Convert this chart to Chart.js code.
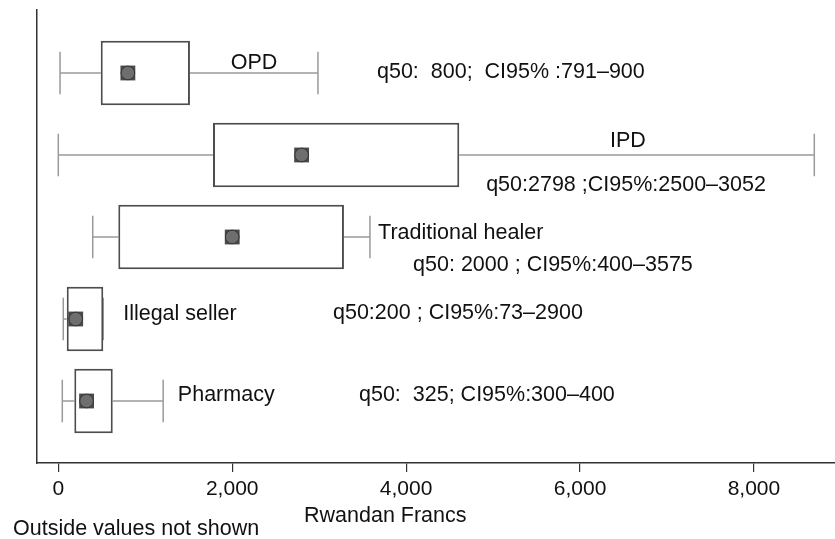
<!DOCTYPE html>
<html>
<head>
<meta charset="utf-8">
<script src="https://cdn.jsdelivr.net/npm/chart.js@4"></script>
<style>
  body { margin: 0; background: #fff; }
  #wrap { width: 835px; height: 539px; }
</style>
</head>
<body>
<div id="wrap"><canvas id="chart"></canvas></div>
<script>
// box plot values (Rwandan Francs)
const categories = ['OPD', 'IPD', 'Traditional healer', 'Illegal seller', 'Pharmacy'];
const whiskerLow = [20, 0, 396, 57, 46];
const q1 = [488, 1779, 690, 97, 184];
const median = [800, 2798, 2000, 200, 325];
const q3 = [1514, 4611, 3285, 517, 626];
const whiskerHigh = [2986, 8694, 3584, 517, 1206];
const xTicks = [0, 2000, 4000, 6000, 8000];

// text notes: [text, x value, row offset, align]
const notes = [
  ['OPD', 2250, 0.88, 'center'],
  ['q50:  800;  CI95% :791–900', 3665, 0.99, 'left'],
  ['IPD', 6550, 1.83, 'center'],
  ['q50:2798 ;CI95%:2500–3052', 4920, 2.37, 'left'],
  ['Traditional healer', 3677, 2.95, 'left'],
  ['q50: 2000 ; CI95%:400–3575', 4080, 3.34, 'left'],
  ['Illegal seller', 746, 3.94, 'left'],
  ['q50:200 ; CI95%:73–2900', 3159, 3.93, 'left'],
  ['Pharmacy', 1375, 4.93, 'left'],
  ['q50:  325; CI95%:300–400', 3458, 4.93, 'left'],
];

const FONT = '21.5px "Liberation Sans", Arial, sans-serif';
const capHalf = 0.26;

// whiskers: one broken line per category
const whiskerSets = categories.map((c, i) => {
  const y = i + 1;
  const gap = { x: null, y: null };
  return {
    type: 'scatter',
    showLine: true,
    spanGaps: false,
    borderColor: '#9a9a9a',
    borderWidth: 1.5,
    pointRadius: 0,
    order: 3,
    data: [
      { x: whiskerLow[i], y: y - capHalf }, { x: whiskerLow[i], y: y + capHalf }, gap,
      { x: whiskerLow[i], y: y }, { x: q1[i], y: y }, gap,
      { x: q3[i], y: y }, { x: whiskerHigh[i], y: y }, gap,
      { x: whiskerHigh[i], y: y - capHalf }, { x: whiskerHigh[i], y: y + capHalf },
    ],
  };
});

const notesPlugin = {
  id: 'notes',
  afterDraw(chart) {
    const { ctx, scales: { x, y }, chartArea } = chart;
    ctx.save();
    ctx.font = FONT;
    ctx.fillStyle = '#111';
    ctx.textBaseline = 'middle';
    notes.forEach(([t, xv, yv, align]) => {
      ctx.textAlign = align;
      ctx.fillText(t, x.getPixelForValue(xv), y.getPixelForValue(yv));
    });
    ctx.textAlign = 'center';
    ctx.fillText('Rwandan Francs', x.getPixelForValue(3760), chartArea.bottom + 53);
    ctx.textAlign = 'left';
    ctx.fillText('Outside values not shown', 13, chartArea.bottom + 66);
    ctx.restore();
  }
};

new Chart(document.getElementById('chart'), {
  type: 'scatter',
  data: {
    datasets: [
      {
        type: 'bar',
        indexAxis: 'y',
        data: categories.map((c, i) => ({ x: [q1[i], q3[i]], y: i + 1 })),
        backgroundColor: '#ffffff',
        borderColor: '#4d4d4d',
        borderWidth: 2,
        borderSkipped: false,
        barPercentage: 0.785,
        categoryPercentage: 1,
        order: 2,
      },
      {
        type: 'scatter',
        data: categories.map((c, i) => ({ x: median[i], y: i + 1 })),
        pointStyle: 'rect',
        pointRadius: 10.5,
        backgroundColor: '#4a4a4a',
        borderWidth: 0,
        order: 1,
      },
      {
        type: 'scatter',
        data: categories.map((c, i) => ({ x: median[i], y: i + 1 })),
        pointStyle: 'circle',
        pointRadius: 6.8,
        backgroundColor: '#6e6e6e',
        borderColor: '#333333',
        borderWidth: 1,
        order: 0,
      },
      ...whiskerSets,
    ]
  },
  options: {
    responsive: true,
    maintainAspectRatio: false,
    animation: false,
    layout: { autoPadding: false, padding: { left: 37, top: 10, right: 0, bottom: 0 } },
    plugins: {
      legend: { display: false },
      tooltip: { enabled: false },
    },
    scales: {
      x: {
        type: 'linear',
        offset: false,
        min: -245,
        max: 8932,
        afterBuildTicks: (axis) => { axis.ticks = xTicks.map(v => ({ value: v })); },
        afterFit: (axis) => { axis.height = 76; },
        grid: { offset: false, drawOnChartArea: false, drawTicks: true, tickLength: 9, color: '#333', lineWidth: 1.2 },
        border: { display: true, color: '#333', width: 1.5 },
        ticks: {
          color: '#111',
          padding: 5,
          maxRotation: 0,
          font: { family: '"Liberation Sans", Arial, sans-serif', size: 21 },
          callback: (v) => v.toLocaleString('en-US'),
        },
      },
      y: {
        type: 'linear',
        offset: false,
        reverse: true,
        min: 0.232,
        max: 5.756,
        afterBuildTicks: (axis) => { axis.ticks = categories.map((c, i) => ({ value: i + 1 })); },
        grid: { offset: false, display: false, drawTicks: false },
        border: { display: true, color: '#333', width: 1.5 },
        ticks: { display: false },
      },
    },
  },
  plugins: [notesPlugin],
});
</script>
</body>
</html>
